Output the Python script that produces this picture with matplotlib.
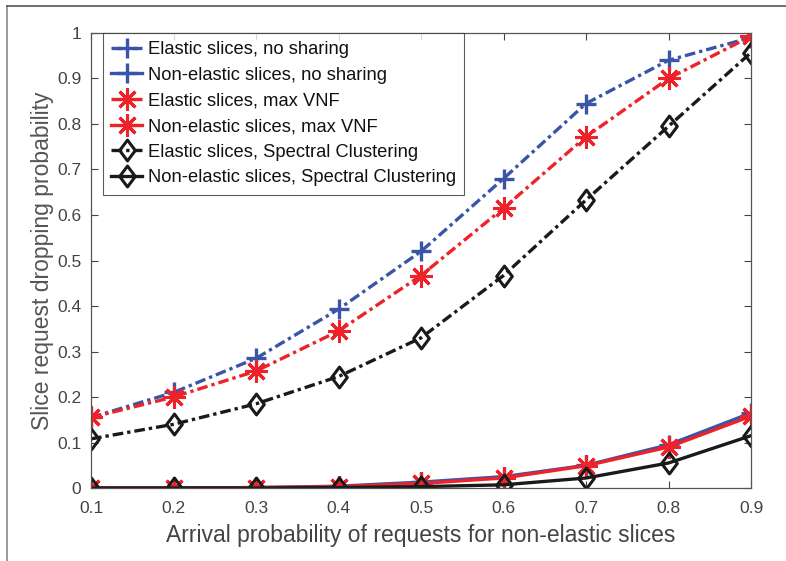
import matplotlib
matplotlib.use('Agg')
import matplotlib.pyplot as plt
from matplotlib.lines import Line2D
from matplotlib.path import Path

plt.rcParams['font.family'] = ['Liberation Sans', 'DejaVu Sans']

x = [0.1, 0.2, 0.3, 0.4, 0.5, 0.6, 0.7, 0.8, 0.9]

el_noshare = [0.155, 0.21, 0.285, 0.393, 0.52, 0.68, 0.845, 0.94, 0.99]
nel_noshare = [0.0, 0.0, 0.001, 0.004, 0.013, 0.025, 0.05, 0.095, 0.165]
el_maxvnf = [0.155, 0.2, 0.257, 0.345, 0.467, 0.615, 0.772, 0.9, 0.993]
nel_maxvnf = [0.0, 0.0, 0.001, 0.003, 0.01, 0.022, 0.049, 0.09, 0.158]
el_sc = [0.108, 0.14, 0.185, 0.245, 0.33, 0.467, 0.633, 0.795, 0.957]
nel_sc = [0.0, 0.0, 0.0, 0.001, 0.003, 0.007, 0.022, 0.055, 0.115]

labels = ['Elastic slices, no sharing', 'Non-elastic slices, no sharing',
          'Elastic slices, max VNF', 'Non-elastic slices, max VNF',
          'Elastic slices, Spectral Clustering', 'Non-elastic slices, Spectral Clustering']

blue = '#3a55a8'
red = '#ee2229'
black = '#1a1a1a'
grey = '#444444'

# matlab style markers
diamond = Path([(0, 1), (0.75, 0), (0, -1), (-0.75, 0), (0, 1)],
               [Path.MOVETO, Path.LINETO, Path.LINETO, Path.LINETO, Path.CLOSEPOLY])
aster = (8, 2, 0)

fig = plt.figure(figsize=(7.86, 5.61), dpi=100)
ax = fig.add_axes([0.1158, 0.1301, 0.8397, 0.8111])

dash = (0, (3.2, 1.2, 1.0, 1.2))
ax.plot(x, el_noshare, color=blue, ls=dash, lw=2.4, marker='+', ms=15, mew=2.4, label=labels[0])
ax.plot(x, nel_noshare, color=blue, ls='-', lw=2.4, marker='+', ms=15, mew=2.4, label=labels[1])
ax.plot(x, el_maxvnf, color=red, ls=dash, lw=2.4, marker=aster, ms=16, mew=2.2, label=labels[2])
ax.plot(x, nel_maxvnf, color=red, ls='-', lw=2.4, marker=aster, ms=16, mew=2.2, label=labels[3])
ax.plot(x, el_sc, color=black, ls=dash, lw=2.4, marker=diamond, ms=15, mew=2.2, mfc='none', label=labels[4])
ax.plot(x, nel_sc, color=black, ls='-', lw=2.4, marker=diamond, ms=15, mew=2.2, mfc='none', label=labels[5])

ax.set_xlim(0.1, 0.9)
ax.set_ylim(0, 1)
ax.set_xticks(x)
ax.set_xticklabels(['0.1', '0.2', '0.3', '0.4', '0.5', '0.6', '0.7', '0.8', '0.9'])
ax.set_yticks([i / 10 for i in range(11)])
ax.set_yticklabels(['0', '0.1', '0.2', '0.3', '0.4', '0.5', '0.6', '0.7', '0.8', '0.9', '1'])
ax.tick_params(direction='in', top=True, right=True, length=5, width=0.8,
               labelsize=12.5, colors=grey)
ax.tick_params(axis='x', pad=9)
ax.tick_params(axis='y', pad=7)
for s in ax.spines.values():
    s.set_color('#555555')
    s.set_linewidth(0.9)

ax.set_xlabel('Arrival probability of requests for non-elastic slices', fontsize=16.5, color=grey, labelpad=6)
ax.set_ylabel('Slice request dropping probability', fontsize=16.5, color='#555555', labelpad=2)

leg = ax.legend(loc='upper left', bbox_to_anchor=(0.018, 1.0), fontsize=13.2, frameon=True,
                fancybox=False, edgecolor='#333333', handlelength=1.7, handletextpad=0.3,
                borderpad=0.45, labelspacing=0.47, borderaxespad=0)
leg.get_frame().set_linewidth(0.8)
for t in leg.get_texts():
    t.set_color('#111111')

# outer frame lines on the left and top of the picture
fig.add_artist(Line2D([0.0089, 0.0089], [0, 0.99], transform=fig.transFigure, color='#888888', lw=1.2))
fig.add_artist(Line2D([0.0089, 1.0], [0.99, 0.99], transform=fig.transFigure, color='#555555', lw=1.2))

fig.savefig('out.png', dpi=100)
